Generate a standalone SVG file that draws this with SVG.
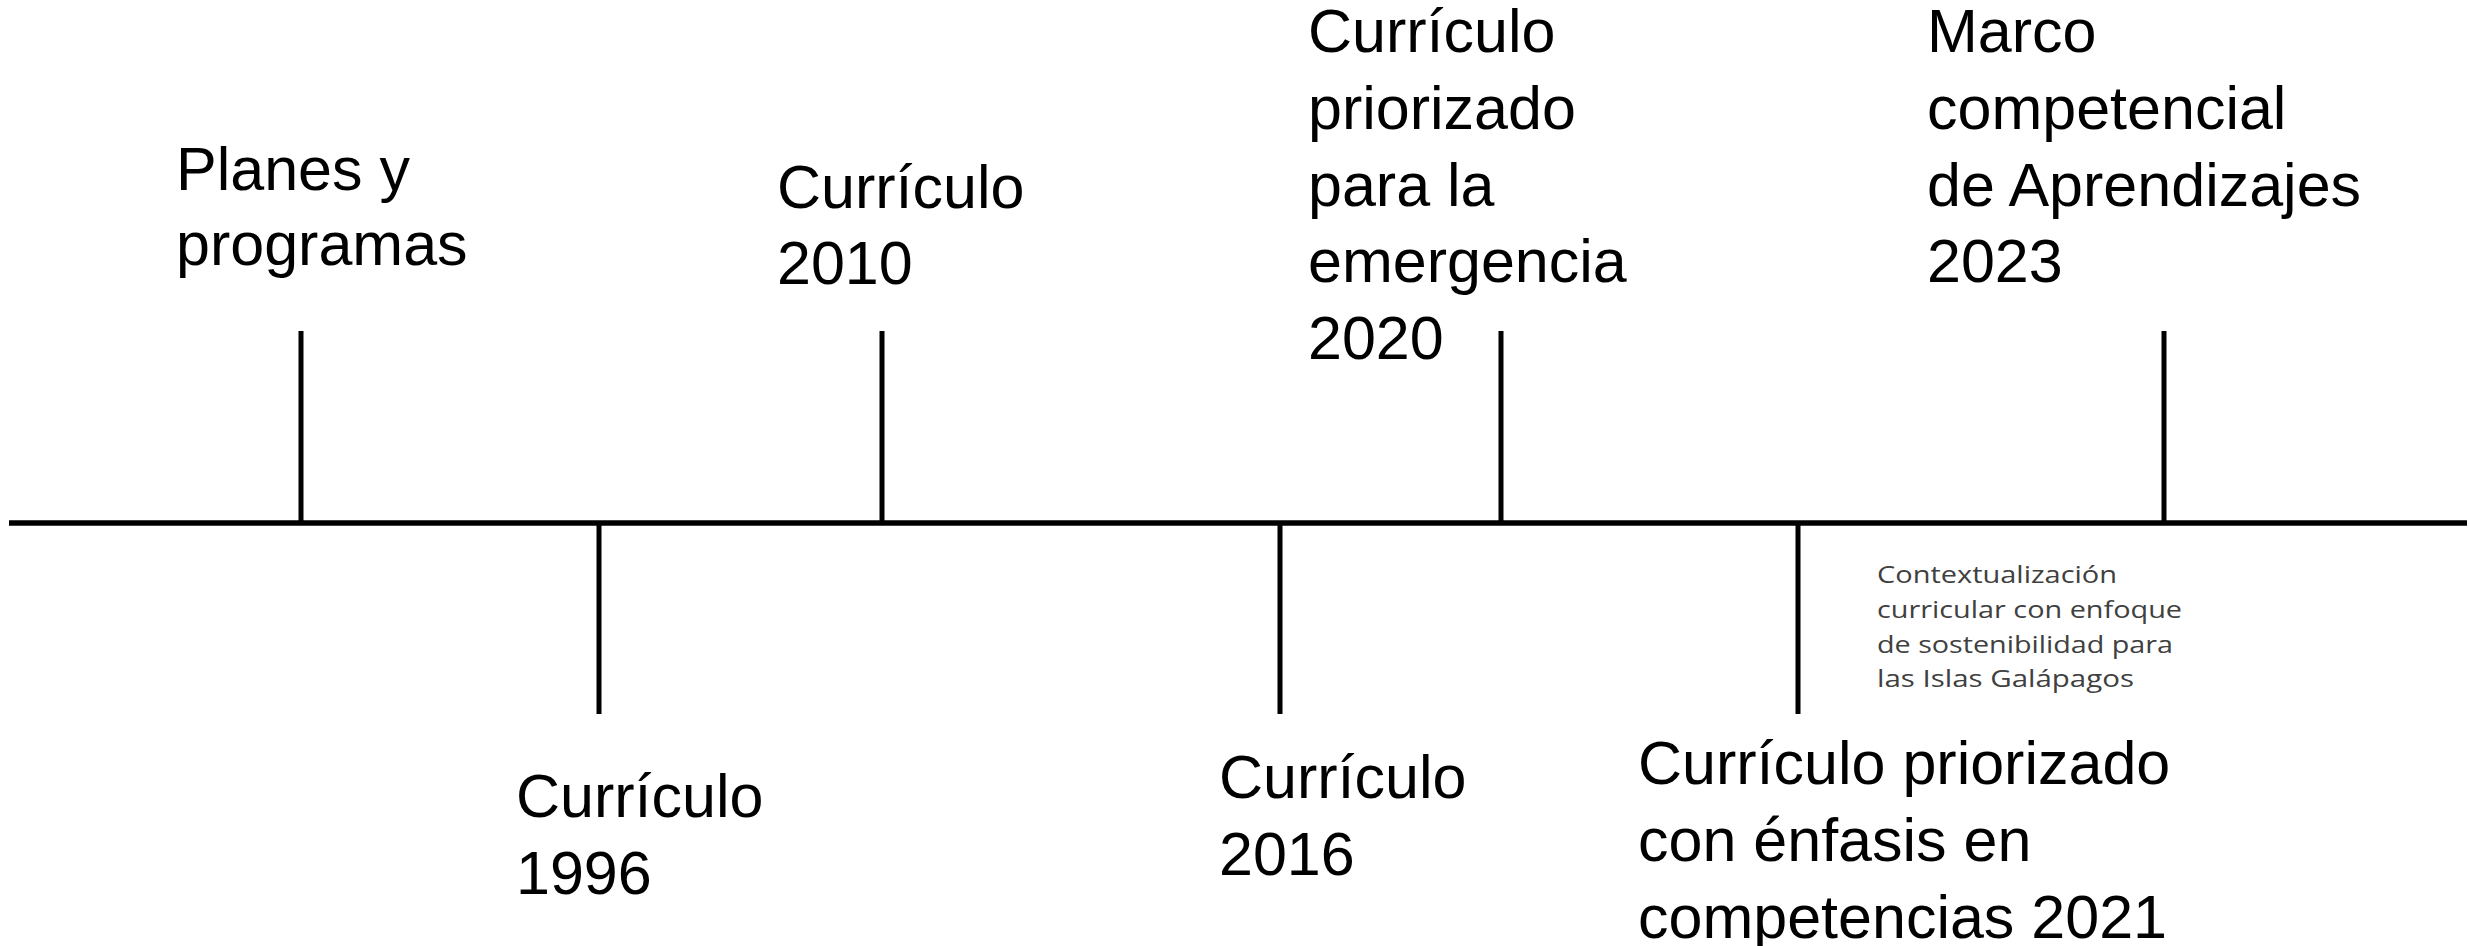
<svg xmlns="http://www.w3.org/2000/svg" width="2469" height="946" viewBox="0 0 2469 946">
<style>
.lbl{font-family:"Liberation Sans",Arial,sans-serif;font-size:61px;fill:#000}
.note{font-family:"Open Sans","Liberation Sans",sans-serif;font-size:24px;fill:#404040}
.tick{stroke:#000;stroke-width:5;fill:none}
.axis{stroke:#000;stroke-width:5.5;fill:none}
</style>
<rect width="2469" height="946" fill="#fff"/>
<g id="connectors">
<line class="axis" x1="9" y1="523" x2="2467" y2="523"/>
<line class="tick" x1="301" y1="331" x2="301" y2="523"/>
<line class="tick" x1="599" y1="523" x2="599" y2="714"/>
<line class="tick" x1="882" y1="331" x2="882" y2="523"/>
<line class="tick" x1="1280" y1="523" x2="1280" y2="714"/>
<line class="tick" x1="1501" y1="331" x2="1501" y2="523"/>
<line class="tick" x1="1798" y1="523" x2="1798" y2="714"/>
<line class="tick" x1="2164" y1="331" x2="2164" y2="523"/>
</g>
<g id="n-planes"><text class="lbl" x="176" y="190">Planes y</text><text class="lbl" x="176" y="265">programas</text></g>
<g id="n-1996"><text class="lbl" x="516" y="817">Currículo</text><text class="lbl" x="516" y="894">1996</text></g>
<g id="n-2010"><text class="lbl" x="777" y="208">Currículo</text><text class="lbl" x="777" y="284">2010</text></g>
<g id="n-2016"><text class="lbl" x="1219" y="798">Currículo</text><text class="lbl" x="1219" y="875">2016</text></g>
<g id="n-2020"><text class="lbl" x="1308" y="52">Currículo</text><text class="lbl" x="1308" y="129">priorizado</text><text class="lbl" x="1308" y="206">para la</text><text class="lbl" x="1308" y="282">emergencia</text><text class="lbl" x="1308" y="359">2020</text></g>
<g id="n-2021"><text class="lbl" x="1638" y="784">Currículo priorizado</text><text class="lbl" x="1638" y="861">con énfasis en</text><text class="lbl" x="1638" y="938">competencias 2021</text></g>
<g id="n-galapagos"><text class="note" x="1877" y="583" textLength="240" lengthAdjust="spacingAndGlyphs">Contextualización</text><text class="note" x="1877" y="618" textLength="305" lengthAdjust="spacingAndGlyphs">curricular con enfoque</text><text class="note" x="1877" y="653" textLength="296" lengthAdjust="spacingAndGlyphs">de sostenibilidad para</text><text class="note" x="1877" y="687" textLength="257" lengthAdjust="spacingAndGlyphs">las Islas Galápagos</text></g>
<g id="n-2023"><text class="lbl" x="1927" y="52">Marco</text><text class="lbl" x="1927" y="129">competencial</text><text class="lbl" x="1927" y="206">de Aprendizajes</text><text class="lbl" x="1927" y="282">2023</text></g>
</svg>
